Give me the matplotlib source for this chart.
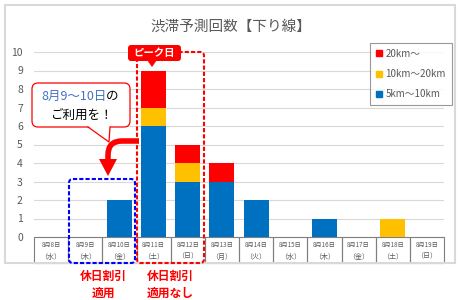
import matplotlib.pyplot as plt
import matplotlib.transforms as mtransforms
from matplotlib.patches import FancyBboxPatch, Polygon, Rectangle, PathPatch
from matplotlib.path import Path
from matplotlib.lines import Line2D

plt.rcParams['font.family'] = ['Noto Sans CJK JP', 'DejaVu Sans']

# データ
dates = ['8月8日', '8月9日', '8月10日', '8月11日', '8月12日', '8月13日',
         '8月14日', '8月15日', '8月16日', '8月17日', '8月18日', '8月19日']
weekdays = ['（水）', '（木）', '（金）', '（土）', '（日）', '（月）',
            '（火）', '（水）', '（木）', '（金）', '（土）', '（日）']
km5_10 = [0, 0, 2, 6, 3, 3, 2, 0, 1, 0, 0, 0]
km10_20 = [0, 0, 0, 1, 1, 0, 0, 0, 0, 0, 1, 0]
km20 = [0, 0, 0, 2, 1, 1, 0, 0, 0, 0, 0, 0]
labels = ['20km～', '10km～20km', '5km～10km']

c_blue = '#0070C0'
c_yellow = '#FFC000'
c_red = '#FF0000'
gray = '#595959'

W, H = 461, 300
fig = plt.figure(figsize=(W / 100, H / 100), dpi=100)
# 左上原点のピクセル座標
px = mtransforms.Affine2D().scale(1, -1).translate(0, H)

ax = fig.add_axes([34 / W, 1 - 237 / H, 410 / W, 185 / H])
x = list(range(len(dates)))
bw = 0.73
ax.bar(x, km5_10, bw, color=c_blue, zorder=3)
bottom2 = [a for a in km5_10]
ax.bar(x, km10_20, bw, bottom=bottom2, color=c_yellow, zorder=3)
bottom3 = [a + b for a, b in zip(km5_10, km10_20)]
ax.bar(x, km20, bw, bottom=bottom3, color=c_red, zorder=3)

ax.set_xlim(-0.5, len(dates) - 0.5)
ax.set_ylim(0, 10)
ax.set_yticks(range(0, 11))
ax.tick_params(axis='y', length=0, labelsize=7.5, labelcolor=gray, pad=8)
ax.set_xticks([])
ax.grid(axis='y', color='#d9d9d9', lw=0.8, zorder=0)
for s in ax.spines.values():
    s.set_visible(False)

# 日付の表
tr = mtransforms.blended_transform_factory(ax.transData, ax.transAxes)
th = 26 / 185
for i in x:
    ax.add_patch(Rectangle((i - 0.5, -th), 1, th, transform=tr, clip_on=False,
                           fill=False, ec='#7f7f7f', lw=0.8))
    ax.text(i, -th * 0.3, dates[i], transform=tr, ha='center', va='center',
            fontsize=4.5, color=gray)
    ax.text(i, -th * 0.75, weekdays[i], transform=tr, ha='center', va='center',
            fontsize=5, color=gray)

# 凡例
handles = [Line2D([], [], ls='', marker='s', ms=4, color=c)
           for c in [c_red, c_yellow, c_blue]]
leg = fig.legend(handles, labels, loc='upper left',
                 bbox_to_anchor=(370 / W, 1 - 43 / H), fontsize=7,
                 labelcolor=gray, frameon=True, fancybox=False,
                 edgecolor='#7f7f7f', labelspacing=1.05, handlelength=0.6,
                 handletextpad=0.4, borderpad=0.6, borderaxespad=0)
leg.get_frame().set_linewidth(0.8)

# タイトル
fig.text(231 / W, 1 - 27 / H, '渋滞予測回数【下り線】', ha='center', va='center',
         fontsize=10.5, color=gray)

# 外枠
fig.patches.append(Rectangle((5, 5), 450, 258, transform=px, fill=False,
                             ec='#d9d9d9', lw=1.5))

# 点線の枠
fig.patches.append(FancyBboxPatch((69, 179), 66, 84, boxstyle='round,pad=0,rounding_size=4',
                                  transform=px, fill=False, ec='#0000FF', lw=1.5,
                                  ls=(0, (2, 1)), zorder=5))
fig.patches.append(FancyBboxPatch((137, 52), 67, 211, boxstyle='round,pad=0,rounding_size=4',
                                  transform=px, fill=False, ec=c_red, lw=1.5,
                                  ls=(0, (2, 1)), zorder=5))

# ピーク日ラベル
fig.patches.append(FancyBboxPatch((128, 45), 53, 16, boxstyle='round,pad=0,rounding_size=3',
                                  transform=px, fc=c_red, ec='none', zorder=6))
fig.patches.append(Polygon([(147, 60), (157, 60), (152, 67)], transform=px,
                           fc=c_red, ec='none', zorder=6))
fig.text(154.5 / W, 1 - 53 / H, 'ピーク日', ha='center', va='center', fontsize=7.5,
         color='white', fontweight='bold', zorder=7)

# 吹き出し
fig.patches.append(FancyBboxPatch((32, 83), 98, 44, boxstyle='round,pad=0,rounding_size=6',
                                  transform=px, fc='white', ec=c_red, lw=0.9, zorder=6))
fig.patches.append(Polygon([(88, 126), (110, 126), (109, 142)], transform=px,
                           fc='white', ec='none', zorder=7))
fig.lines.append(Line2D([88, 109, 110], [127, 142, 127], transform=px, color=c_red,
                        lw=0.9, zorder=8))
fig.text(107 / W, 1 - 96 / H, '8月9～10日', ha='right', va='center', fontsize=9,
         color='#4472C4', zorder=9)
fig.text(106 / W, 1 - 96 / H, 'の', ha='left', va='center', fontsize=9,
         color='black', zorder=9)
fig.text(81 / W, 1 - 115 / H, 'ご利用を！', ha='center', va='center', fontsize=9,
         color='black', zorder=9)

# 矢印
arrow_path = Path([(139, 141), (122, 141), (108, 141), (108, 155), (108, 161)],
                  [Path.MOVETO, Path.LINETO, Path.CURVE3, Path.CURVE3, Path.LINETO])
fig.patches.append(PathPatch(arrow_path, transform=px, fill=False, ec=c_red,
                             lw=4, capstyle='butt', zorder=8))
fig.patches.append(Polygon([(99, 159), (117, 159), (108, 176)], transform=px,
                           fc=c_red, ec='none', zorder=8))

# 下の注記
fig.text(103 / W, 1 - 285 / H, '休日割引\n適用', ha='center', va='center', fontsize=8.5,
         color=c_red, fontweight='bold', linespacing=1.35)
fig.text(170 / W, 1 - 285 / H, '休日割引\n適用なし', ha='center', va='center',
         fontsize=8.5, color=c_red, fontweight='bold', linespacing=1.35)

fig.savefig('out.png', dpi=100)
